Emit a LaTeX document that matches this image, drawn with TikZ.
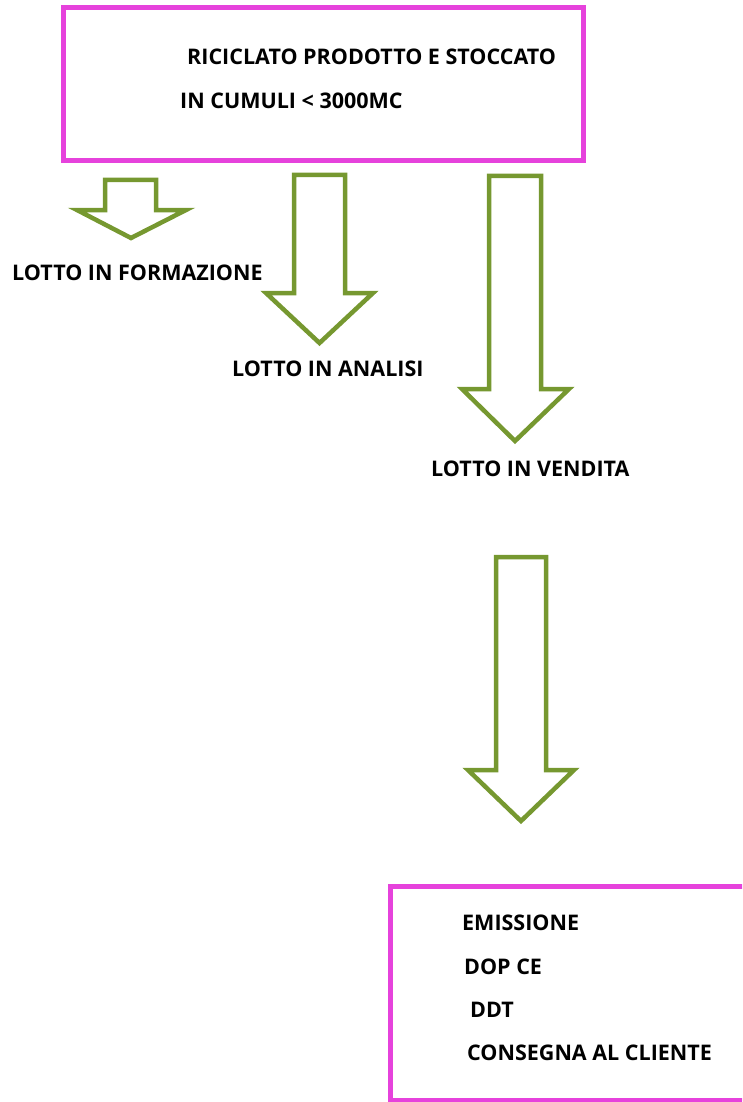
\documentclass[tikz,border=0pt]{standalone}
\usepackage{fontspec}
\setmainfont{Open Sans}[BoldFont={Open Sans Bold}]
\definecolor{mag}{RGB}{230,66,220}
\definecolor{olive}{RGB}{118,152,48}
\begin{document}
\begin{tikzpicture}[x=1pt,y=-1pt,
  box/.style={draw=mag,line width=5pt},
  blockarrow/.style={draw=olive,line width=4.5pt,fill=white,line join=miter},
  lbl/.style={anchor=west,inner sep=0pt,font=\bfseries\fontsize{21.5}{24}\selectfont}]
\useasboundingbox (0,0) rectangle (742,1102);
\clip (0,0) rectangle (742,1102);
% top box
\draw[box] (63,7.5) rectangle (583.5,160.5);
\node[lbl] (t1) at (187,57) {RICICLATO PRODOTTO E STOCCATO};
\node[lbl] (t2) at (180,101) {IN CUMULI < 3000MC};
% arrows
\draw[blockarrow] (105,180) -- (156,180) -- (156,210) -- (186,210) -- (131,238) -- (77,210) -- (105,210) -- cycle;
\draw[blockarrow] (294,175) -- (345,175) -- (345,293) -- (373,293) -- (319.5,343) -- (266,293) -- (294,293) -- cycle;
\draw[blockarrow] (489,176) -- (541,176) -- (541,389) -- (569,389) -- (515,441) -- (462,389) -- (489,389) -- cycle;
\draw[blockarrow] (496,557) -- (546,557) -- (546,770) -- (574,770) -- (521,821) -- (468,770) -- (496,770) -- cycle;
% labels
\node[lbl] (l1) at (12,273) {LOTTO IN FORMAZIONE};
\node[lbl] (l2) at (232,369) {LOTTO IN ANALISI};
\node[lbl] (l3) at (431,469) {LOTTO IN VENDITA};
% bottom box
\draw[box] (390,886) rectangle (760,1100);
\node[lbl] (b1) at (462,923) {EMISSIONE};
\node[lbl] (b2) at (464,967) {DOP CE};
\node[lbl] (b3) at (470,1010) {DDT};
\node[lbl] (b4) at (467,1053) {CONSEGNA AL CLIENTE};
\end{tikzpicture}
\end{document}
